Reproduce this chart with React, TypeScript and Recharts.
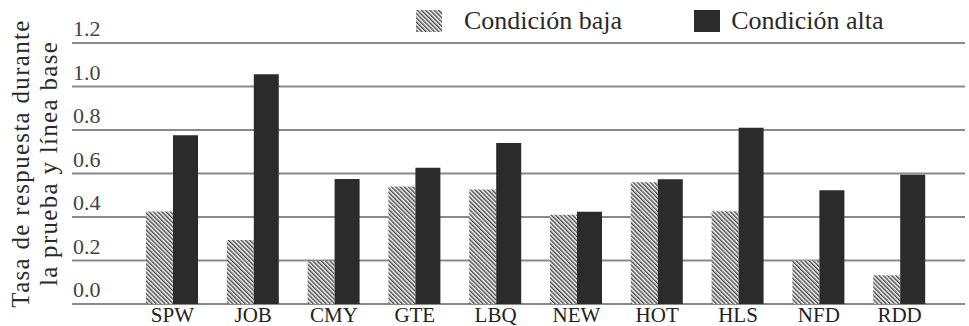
import React from "react";
import { Bar, BarChart, CartesianGrid, Legend, XAxis, YAxis } from "recharts";

const categories = ["SPW", "JOB", "CMY", "GTE", "LBQ", "NEW", "HOT", "HLS", "NFD", "RDD"];
const lowValues = [0.425, 0.294, 0.198, 0.54, 0.527, 0.41, 0.56, 0.427, 0.2, 0.132];
const highValues = [0.776, 1.056, 0.575, 0.626, 0.74, 0.424, 0.574, 0.81, 0.523, 0.594];
const yTicks = [0, 0.2, 0.4, 0.6, 0.8, 1.0, 1.2];
const yTitle = ["Tasa de respuesta durante", "la prueba y línea base"];
const seriesNames = { low: "Condición baja", high: "Condición alta" };
const legendOrder = ["low", "high"];

const FONT = "'Liberation Serif', serif";
const DARK = "#2b2b2b";
const HATCH = "#4a4a4a";

const data = categories.map((name, i) => ({
  name,
  low: lowValues[i],
  high: highValues[i],
}));

function HatchPattern({ id }: { id: string }) {
  return (
    <pattern
      id={id}
      patternUnits="userSpaceOnUse"
      width={3}
      height={3}
      patternTransform="rotate(-45)"
    >
      <rect width={3} height={3} fill="#fff" />
      <rect width={1.5} height={3} fill={HATCH} />
    </pattern>
  );
}

function YTick(props: any) {
  const { x, y, payload } = props;
  return (
    <text
      x={x + 1}
      y={y - 7}
      textAnchor="start"
      style={{ fontFamily: FONT, fontSize: 22 }}
      fill="#444"
    >
      {Number(payload.value).toFixed(1)}
    </text>
  );
}

// two-line rotated axis title
function YTitle(props: any) {
  const { viewBox } = props;
  const cy = viewBox.y + viewBox.height / 2 - 10;
  const xs = [29, 57];
  return (
    <g>
      {yTitle.map((line, i) => (
        <text
          key={line}
          x={xs[i]}
          y={cy}
          transform={`rotate(-90, ${xs[i]}, ${cy})`}
          textAnchor="middle"
          style={{ fontFamily: FONT, fontSize: 25, letterSpacing: 1.3 }}
          fill="#2a2a2a"
        >
          {line}
        </text>
      ))}
    </g>
  );
}

function LegendContent(props: any) {
  const items = [...(props.payload ?? [])].sort(
    (a: any, b: any) => legendOrder.indexOf(a.dataKey) - legendOrder.indexOf(b.dataKey)
  );
  return (
    <div style={{ display: "flex", alignItems: "center", fontFamily: FONT }}>
      {items.map((item: any, i: number) => (
        <div
          key={item.value}
          style={{ display: "flex", alignItems: "center", marginRight: i === 0 ? 72 : 0 }}
        >
          <svg width={26} height={22} style={{ marginRight: i === 0 ? 22 : 11 }}>
            <defs>
              <HatchPattern id="legendHatch" />
            </defs>
            <rect
              width={26}
              height={22}
              fill={item.dataKey === "low" ? "url(#legendHatch)" : DARK}
            />
          </svg>
          <span style={{ fontSize: 26, color: "#2a2a2a", lineHeight: "26px" }}>
            {item.value}
          </span>
        </div>
      ))}
    </div>
  );
}

export default function App() {
  return (
    <div style={{ position: "absolute", left: 0, top: 0, background: "#fff", fontFamily: FONT }}>
      <BarChart
        width={969}
        height={326}
        data={data}
        margin={{ top: 43, right: 4, bottom: 0, left: 8 }}
        barGap={0}
      >
        <defs>
          <HatchPattern id="barHatch" />
        </defs>
        <CartesianGrid vertical={false} stroke="#8a8a8a" strokeWidth={2} />
        <XAxis
          dataKey="name"
          height={22}
          padding={{ left: 60, right: 25 }}
          axisLine={false}
          tickLine={false}
          tickSize={0}
          tickMargin={3}
          interval={0}
          tick={{ fontFamily: FONT, fontSize: 21, fill: "#222" }}
        />
        <YAxis
          width={64}
          domain={[0, 1.2]}
          ticks={yTicks}
          axisLine={false}
          tickLine={false}
          tickSize={0}
          tickMargin={0}
          tick={<YTick />}
          label={{ content: <YTitle /> }}
        />
        <Legend
          verticalAlign="middle"
          align="center"
          layout="horizontal"
          wrapperStyle={{ top: 8, left: 416, width: "auto" }}
          content={<LegendContent />}
        />
        <Bar
          dataKey="low"
          name={seriesNames.low}
          fill="url(#barHatch)"
          barSize={27}
          isAnimationActive={false}
        />
        <Bar
          dataKey="high"
          name={seriesNames.high}
          fill={DARK}
          barSize={25}
          isAnimationActive={false}
        />
      </BarChart>
    </div>
  );
}
